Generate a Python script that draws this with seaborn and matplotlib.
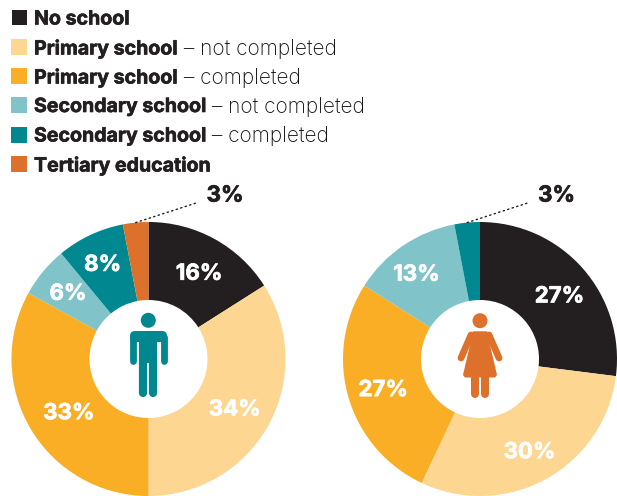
import matplotlib
matplotlib.use("Agg")
import matplotlib.pyplot as plt
import matplotlib.patheffects as pe
import numpy as np
import seaborn as sns
from matplotlib.patches import Circle, FancyBboxPatch, Polygon, Rectangle
from matplotlib.lines import Line2D

# Education levels and the share of each group that reached them
bold_labels = ["No school", "Primary school", "Primary school",
               "Secondary school", "Secondary school", "Tertiary education"]
light_labels = ["", " – not completed", " – completed",
                " – not completed", " – completed", ""]
level_colors = ["#231F20", "#FDD692", "#F9AE26", "#80C3C9", "#00878F", "#DD702A"]

men_values = [16, 34, 33, 6, 8, 3]
men_levels = [0, 1, 2, 3, 4, 5]
women_values = [27, 30, 27, 13, 3]
women_levels = [0, 1, 2, 3, 4]

INK = "#231F20"
FONT = "Inter"
W, H = 617, 496
RADIUS_PX = 137

sns.set_theme(style="white")
plt.rcParams["font.family"] = [FONT, "DejaVu Sans"]
palette = sns.color_palette(level_colors)

fig = plt.figure(figsize=(W / 100, H / 100), dpi=100, facecolor="white")


def heavy(width=0.45, color=INK):
    return [pe.withStroke(linewidth=width, foreground=color)]


def donut(left, values, levels, nudges):
    ax = fig.add_axes([left / W, 0, 274 / W, 274 / H])
    _, _, autotexts = ax.pie(
        values, colors=[palette[i] for i in levels], startangle=90,
        counterclock=False, radius=1.0,
        wedgeprops=dict(width=78 / RADIUS_PX, linewidth=0),
        autopct=lambda p: f"{p:.0f}%" if p > 4 else "",
        pctdistance=0.735,
        textprops=dict(color="white", fontsize=16, fontweight="bold"))
    ax.set_xlim(-1, 1)
    ax.set_ylim(-1, 1)
    ax.axis("off")
    # Fine placement of the ring labels, in pixels
    for t, (dx, dy) in zip(autotexts, nudges):
        x, y = t.get_position()
        t.set_position((x + dx / RADIUS_PX, y - dy / RADIUS_PX))
        t.set_path_effects(heavy(0.5, "white"))
    # The smallest slice is labelled outside the ring with a dotted leader
    share = values[-1]
    mid = 2 * np.pi * (1 - share / 200)
    ax.annotate(f"{share}%", xy=(np.sin(mid), np.cos(mid)),
                xytext=(71, 27), textcoords="offset pixels",
                ha="left", va="center", color=INK, fontsize=16, fontweight="bold",
                path_effects=heavy(0.5),
                arrowprops=dict(arrowstyle="-", linestyle=(0, (1, 2.4)), color=INK,
                                linewidth=1.0, shrinkA=6, shrinkB=0, relpos=(0, 0.3),
                                path_effects=[]),
                annotation_clip=False)
    return ax


donut(11.5, men_values, men_levels,
      [(2, 3), (-2, 2), (7, 3), (-3, -1), (-3, -3), (0, 0)])
donut(343, women_values, women_levels,
      [(4, 4), (1, 5), (0, 3), (-7, -1), (0, 0)])

# Overlay in pixel units for the legend and the pictograms
ov = fig.add_axes([0, 0, 1, 1], zorder=5)
ov.set_xlim(0, W)
ov.set_ylim(H, 0)
ov.axis("off")

legend_rows = [17.5, 47, 76, 105, 134.5, 164]
for i, (y, color, bold, light) in enumerate(zip(legend_rows, palette, bold_labels, light_labels)):
    if i == 0:
        ov.add_patch(Rectangle((12.3, y - 7.5), 15, 14.5, facecolor=color, linewidth=0))
    else:
        ov.add_patch(Rectangle((11, y - 8), 16, 16, facecolor=color, linewidth=0))
    t = ov.text(34, y, bold, fontsize=14.1, fontweight="bold", color=INK,
                va="center_baseline", path_effects=heavy(0.45))
    if light:
        fig.canvas.draw()
        ext = t.get_window_extent()
        ov.text(ext.x1, y, light, fontsize=15, fontweight="light", color="#111011",
                va="center_baseline")


def limb(x, y, color, width):
    ov.add_line(Line2D(x, y, color=color, linewidth=width * 0.72,
                       solid_capstyle="round"))


# Man pictogram
teal = palette[4]
ov.add_patch(Circle((148.3, 320.3), 7.5, facecolor=teal, linewidth=0))
ov.add_patch(FancyBboxPatch((130, 331), 37, 11, boxstyle="round,pad=0,rounding_size=5",
                            facecolor=teal, linewidth=0))
limb([133.4, 133.4], [337, 360.8], teal, 6.8)
limb([163.6, 163.6], [337, 360.8], teal, 6.8)
ov.add_patch(Rectangle((139.3, 335), 18, 28, facecolor=teal, linewidth=0))
limb([143.4, 143.4], [362, 393.4], teal, 8.2)
limb([153.2, 153.2], [362, 393.4], teal, 8.2)

# Woman pictogram
rust = palette[5]
ov.add_patch(Circle((480, 320.7), 7.5, facecolor=rust, linewidth=0))
ov.add_patch(Polygon([(473, 331.3), (487, 331.3), (490, 345), (497, 375), (495, 377.5),
                      (465, 377.5), (463, 375), (470, 345)],
                     closed=True, facecolor=rust, linewidth=0))
limb([471, 461], [335, 358], rust, 6.8)
limb([489, 499], [335, 358], rust, 6.8)
limb([474.7, 474.7], [372, 393.7], rust, 8)
limb([485.3, 485.3], [372, 393.7], rust, 8)

fig.savefig("out.png", dpi=100, facecolor="white")
